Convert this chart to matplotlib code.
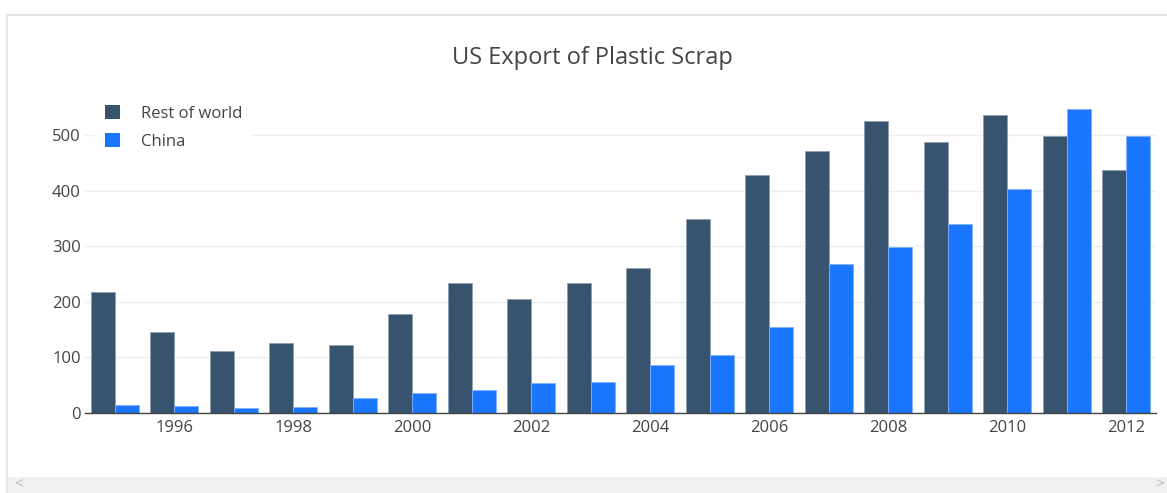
import matplotlib
matplotlib.use("Agg")
import matplotlib.pyplot as plt
from matplotlib.patches import Rectangle, Patch
from matplotlib.lines import Line2D
import numpy as np

years = [1995, 1996, 1997, 1998, 1999, 2000, 2001, 2002, 2003, 2004, 2005,
         2006, 2007, 2008, 2009, 2010, 2011, 2012]
rest_of_world = [218, 145, 111, 126, 123, 179, 234, 206, 234, 261, 349,
                 428, 472, 526, 488, 537, 499, 438]
china = [15, 12, 9, 11, 27, 36, 42, 54, 55, 87, 104,
         155, 269, 299, 340, 403, 548, 498]
series_names = ["Rest of world", "China"]
colors = ["#37536d", "#1a76ff"]
xtick_years = [1996, 1998, 2000, 2002, 2004, 2006, 2008, 2010, 2012]
yticks = [0, 100, 200, 300, 400, 500]
title = "US Export of Plastic Scrap"

plt.rcParams['font.family'] = ['Open Sans', 'DejaVu Sans']

W, H = 1167, 493
fig = plt.figure(figsize=(W / 100, H / 100), dpi=100)

# page frame
fig.add_artist(Line2D([7 / W, 7 / W], [0, 1 - 15 / H], color="#e3e3e3", lw=1.2,
                      transform=fig.transFigure))
fig.add_artist(Line2D([7 / W, 1], [1 - 15 / H, 1 - 15 / H], color="#e3e3e3", lw=1.5,
                      transform=fig.transFigure))
fig.add_artist(Rectangle((7 / W, 0), 1 - 7 / W, 16 / H, transform=fig.transFigure,
                         facecolor="#f0f0f0", edgecolor="none"))
fig.text(19 / W, 8 / H, "<", color="#bbbbbb", fontsize=11, ha="center", va="center")
fig.text(1160 / W, 8 / H, ">", color="#bbbbbb", fontsize=11, ha="center", va="center")

ax_left, ax_right = 85, 1156
ax_bottom, ax_top = 413, 93
ax = fig.add_axes([ax_left / W, 1 - ax_bottom / H, (ax_right - ax_left) / W,
                   (ax_bottom - ax_top) / H])

x = np.array(years, dtype=float)
bw = 0.4
ax.bar(x - bw / 2, rest_of_world, width=bw, color=colors[0],
       edgecolor="#8fa0b3", linewidth=0.6, zorder=3)
ax.bar(x + bw / 2, china, width=bw, color=colors[1],
       edgecolor="#7fb0ff", linewidth=0.6, zorder=3)

ax.set_xlim(1994.5, 2012.5)
ax.set_ylim(0, 320 / 0.5553)
ax.set_xticks(xtick_years)
ax.set_xticklabels([str(y) for y in xtick_years])
ax.set_yticks(yticks)
ax.grid(axis="y", color="#eeeeee", linewidth=1.0, zorder=0)
ax.set_axisbelow(True)
for s in ["top", "right", "left"]:
    ax.spines[s].set_visible(False)
ax.spines["bottom"].set_color("#444444")
ax.spines["bottom"].set_linewidth(1.0)
ax.spines["bottom"].set_zorder(4)
ax.tick_params(axis="both", length=0, labelsize=12, labelcolor="#444444")
ax.tick_params(axis="x", pad=5)
ax.tick_params(axis="y", pad=3)

fig.text(592 / W, 1 - 58 / H, title, ha="center", va="center",
         fontsize=17, color="#444444")

handles = [Patch(facecolor=c, edgecolor="none") for c in colors]
leg = ax.legend(handles, series_names, loc="upper left",
                bbox_to_anchor=(95 / W, 1 - 95 / H), bbox_transform=fig.transFigure,
                frameon=True, facecolor="white", edgecolor="none", framealpha=1,
                fontsize=12, handlelength=0.9, handleheight=0.9,
                handletextpad=1.26, labelspacing=0.68, borderpad=0.6,
                borderaxespad=0, fancybox=False)
leg.set_zorder(5)
for t in leg.get_texts():
    t.set_color("#444444")

fig.savefig("out.png", dpi=100)
